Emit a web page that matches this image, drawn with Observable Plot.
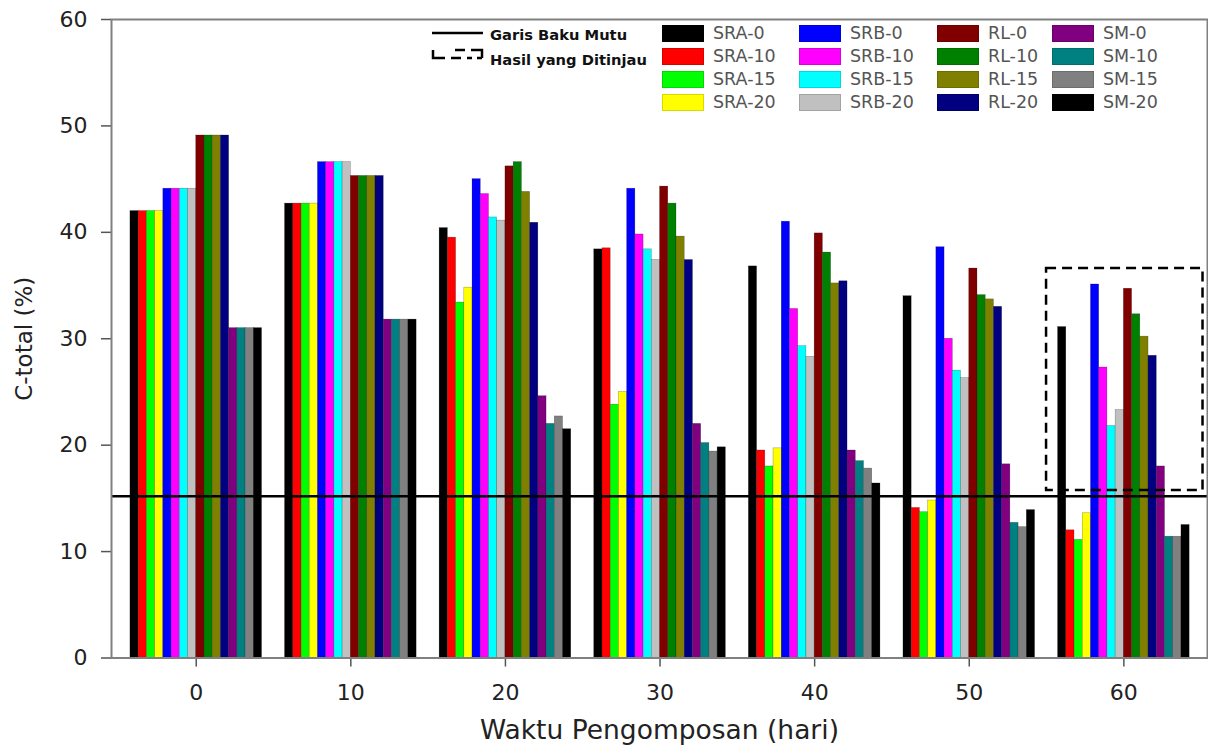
<!DOCTYPE html>
<html><head><meta charset="utf-8">
<script src="https://cdn.jsdelivr.net/npm/d3@7"></script>
<script src="https://cdn.jsdelivr.net/npm/@observablehq/plot@0.6"></script>
<style>
body{margin:0;background:#fff;}
#wrap{position:relative;width:1208px;height:749px;overflow:hidden;}
#wrap svg{display:block;}
g[aria-label="x-axis label"] text{font-size:26.5px;fill:#222;}
g[aria-label="y-axis label"] text{font-size:23px;fill:#222;}
g[aria-label="x-axis tick"], g[aria-label="y-axis tick"]{stroke:#555;stroke-width:1.5px;}
.lg{position:absolute;font-family:"DejaVu Sans",sans-serif;}
.sw{position:absolute;width:42px;height:17px;box-sizing:border-box;border:1px solid rgba(0,0,0,0.15);}
.lt{position:absolute;font-size:17.5px;color:#555;line-height:17px;white-space:nowrap;}
.bt{position:absolute;font-family:"DejaVu Sans",sans-serif;font-weight:bold;font-size:14.7px;color:#111;white-space:nowrap;line-height:16px;}
</style></head><body><div id="wrap"></div>
<script>
const days = [0, 10, 20, 30, 40, 50, 60];
const dayTicks = [0, 10, 20, 30, 40, 50, 60];
const yTicks = [0, 10, 20, 30, 40, 50, 60];
const seriesNames = ["SRA-0","SRA-10","SRA-15","SRA-20","SRB-0","SRB-10","SRB-15","SRB-20","RL-0","RL-10","RL-15","RL-20","SM-0","SM-10","SM-15","SM-20"];
const seriesColors = ["#000000","#ff0000","#00ff00","#ffff00","#0000ff","#ff00ff","#00ffff","#c0c0c0","#800000","#008000","#808000","#000080","#800080","#008080","#808080","#000000"];
const sra0  = [42.0, 42.7, 40.4, 38.4, 36.8, 34.0, 31.1];
const sra10 = [42.0, 42.7, 39.5, 38.5, 19.5, 14.1, 12.0];
const sra15 = [42.0, 42.7, 33.4, 23.8, 18.0, 13.7, 11.1];
const sra20 = [42.0, 42.7, 34.8, 25.0, 19.7, 14.8, 13.6];
const srb0  = [44.1, 46.6, 45.0, 44.1, 41.0, 38.6, 35.1];
const srb10 = [44.1, 46.6, 43.6, 39.8, 32.8, 30.0, 27.3];
const srb15 = [44.1, 46.6, 41.4, 38.4, 29.3, 27.0, 21.8];
const srb20 = [44.1, 46.6, 41.1, 37.4, 28.3, 26.3, 23.3];
const rl0   = [49.1, 45.3, 46.2, 44.3, 39.9, 36.6, 34.7];
const rl10  = [49.1, 45.3, 46.6, 42.7, 38.1, 34.1, 32.3];
const rl15  = [49.1, 45.3, 43.8, 39.6, 35.2, 33.7, 30.2];
const rl20  = [49.1, 45.3, 40.9, 37.4, 35.4, 33.0, 28.4];
const sm0   = [31.0, 31.8, 24.6, 22.0, 19.5, 18.2, 18.0];
const sm10  = [31.0, 31.8, 22.0, 20.2, 18.5, 12.7, 11.4];
const sm15  = [31.0, 31.8, 22.7, 19.4, 17.8, 12.3, 11.4];
const sm20  = [31.0, 31.8, 21.5, 19.8, 16.4, 13.9, 12.5];
const seriesValues = [sra0, sra10, sra15, sra20, srb0, srb10, srb15, srb20, rl0, rl10, rl15, rl20, sm0, sm10, sm15, sm20];
const bakuMutu = 15.2;
const reviewedBox = {x1: 55.0, x2: 65.12, y1: 15.75, y2: 36.6};
const lineLegend = ["Garis Baku Mutu", "Hasil yang Ditinjau"];

const table = [];
seriesNames.forEach((s, k) => days.forEach((d, i) => table.push({series: s, k, day: d, value: seriesValues[k][i]})));
const barW = 0.532;

const chart = Plot.plot({
  width: 1208, height: 749,
  marginLeft: 111, marginRight: 1, marginTop: 19, marginBottom: 91.5,
  style: {fontFamily: "DejaVu Sans", fontSize: "22px", color: "#222", background: "#fff", overflow: "visible"},
  x: {domain: [-5.48, 65.41], ticks: dayTicks, tickFormat: d => String(d), tickSize: 9, tickPadding: 17,
      label: "Waktu Pengomposan (hari)", labelAnchor: "center", labelOffset: 81, labelArrow: false},
  y: {domain: [0, 60], ticks: yTicks, tickSize: 10, tickPadding: 14,
      label: "C-total (%)", labelAnchor: "center", labelOffset: 96, labelArrow: false},
  color: {domain: seriesNames, range: seriesColors},
  marks: [
    Plot.rect(table, {
      x1: d => d.day + (d.k - 8) * barW,
      x2: d => d.day + (d.k - 7) * barW,
      y1: d => 0, y2: "value",
      fill: "series", stroke: "#000", strokeWidth: 0.5, strokeOpacity: 0.4
    }),
    Plot.ruleY([bakuMutu], {stroke: "#000", strokeWidth: 2.5}),
    Plot.rect([reviewedBox], {x1: "x1", x2: "x2", y1: "y1", y2: "y2", fill: "none", stroke: "#000", strokeWidth: 2.5, strokeDasharray: "10,6"}),
    Plot.frame({stroke: "#808080", strokeWidth: 2})
  ]
});
const wrap = document.getElementById("wrap");
wrap.appendChild(chart);

// line legend
const ls = document.createElementNS("http://www.w3.org/2000/svg", "svg");
ls.setAttribute("width", 60); ls.setAttribute("height", 40);
ls.style.position = "absolute"; ls.style.left = "428px"; ls.style.top = "25px";
ls.innerHTML = '<line x1="4" y1="8" x2="55" y2="8" stroke="#000" stroke-width="2.5"/>' +
  '<path d="M5,25 V33 H17 M23,33 H33 M39,33 H44 M27,25 H37 M43,25 H54 V33 M49,33 H54" fill="none" stroke="#000" stroke-width="2.5"/>';
wrap.appendChild(ls);
lineLegend.forEach((t, i) => {
  const e = document.createElement("div");
  e.className = "bt"; e.textContent = t;
  e.style.left = "490px"; e.style.top = (27 + i * 25) + "px";
  wrap.appendChild(e);
});

// color legend
const colX = [662, 799, 937, 1052];
const rowY = [25, 48, 71, 94];
seriesNames.forEach((s, k) => {
  const c = Math.floor(k / 4), r = k % 4;
  const sw = document.createElement("div");
  sw.className = "sw"; sw.style.background = seriesColors[k];
  sw.style.left = colX[c] + "px"; sw.style.top = rowY[r] + "px";
  wrap.appendChild(sw);
  const t = document.createElement("div");
  t.className = "lg lt"; t.textContent = s;
  t.style.left = (colX[c] + 51) + "px"; t.style.top = (rowY[r] + 0) + "px";
  wrap.appendChild(t);
});
</script></body></html>
